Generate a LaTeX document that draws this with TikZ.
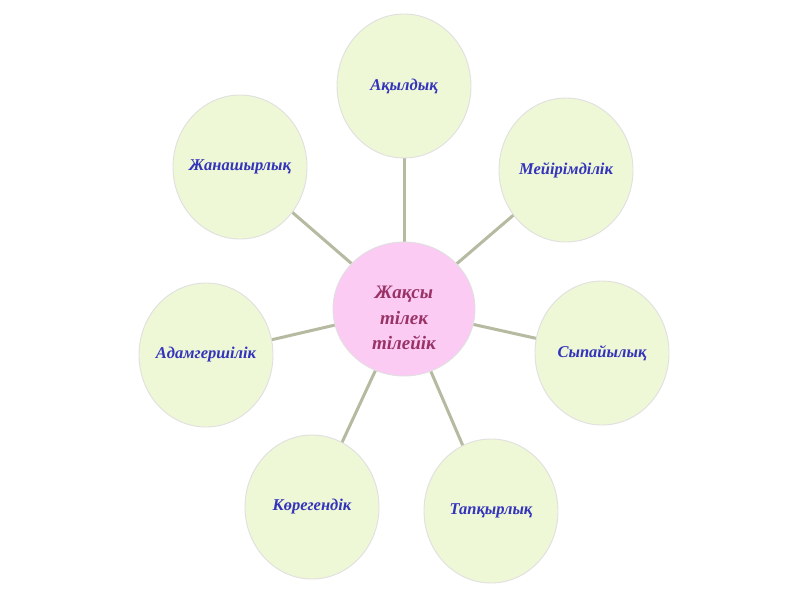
\documentclass[tikz,border=0pt]{standalone}
\usepackage{fontspec}
\setmainfont{Liberation Serif}
\usetikzlibrary{shapes.geometric}
\definecolor{leaf}{HTML}{EEF7D6}
\definecolor{pinkc}{HTML}{FBCBF4}
\definecolor{bluet}{HTML}{3333BB}
\definecolor{plum}{HTML}{993366}
\definecolor{linkc}{HTML}{B6BAA0}
\newcommand\narrowtext[1]{\makebox[0pt]{#1}}
\tikzset{
  outer/.style={ellipse, fill=leaf, draw=black!12, line width=0.9pt, minimum width=134pt, minimum height=144pt, inner sep=0pt, text=bluet, font=\fontsize{16.5}{19}\selectfont\bfseries\itshape},
  hub/.style={ellipse, fill=pinkc, draw=black!12, line width=0.9pt, minimum width=142pt, minimum height=134pt, inner sep=0pt},
  hubtext/.style={inner sep=0pt, text=plum, align=center, font=\fontsize{19}{25.5}\selectfont\bfseries\itshape},
  link/.style={draw=linkc, line width=3pt}
}
\begin{document}
\begin{tikzpicture}[x=1pt,y=-1pt]
\useasboundingbox (0,0) rectangle (800,600);
\fill[white] (0,0) rectangle (800,600);
\coordinate (cc) at (404,309);
\coordinate (pA) at (404,86);
\coordinate (pM) at (566,170);
\coordinate (pS) at (602,353);
\coordinate (pT) at (491,511);
\coordinate (pK) at (312,507);
\coordinate (pD) at (206,355);
\coordinate (pZ) at (240,167);
\foreach \p in {pA,pM,pS,pT,pK,pD,pZ} \draw[link] (cc) -- (\p);
\node[outer] (akyl) at (pA) {\narrowtext{Ақылдық}};
\node[outer] (meir) at (pM) {\narrowtext{Мейірімділік}};
\node[outer] (sypa) at (pS) {\narrowtext{Сыпайылық}};
\node[outer] (tapk) at (pT) {\narrowtext{Тапқырлық}};
\node[outer] (kore) at (pK) {\narrowtext{Көрегендік}};
\node[outer] (adam) at (pD) {\narrowtext{Адамгершілік}};
\node[outer] (zhan) at (pZ) {\narrowtext{Жанашырлық}};
\node[hub] (hub) at (cc) {};
\node[hubtext] (hubt) at ([yshift=-9pt]hub.center) {Жақсы\\тілек\\тілейік};
\end{tikzpicture}
\end{document}
